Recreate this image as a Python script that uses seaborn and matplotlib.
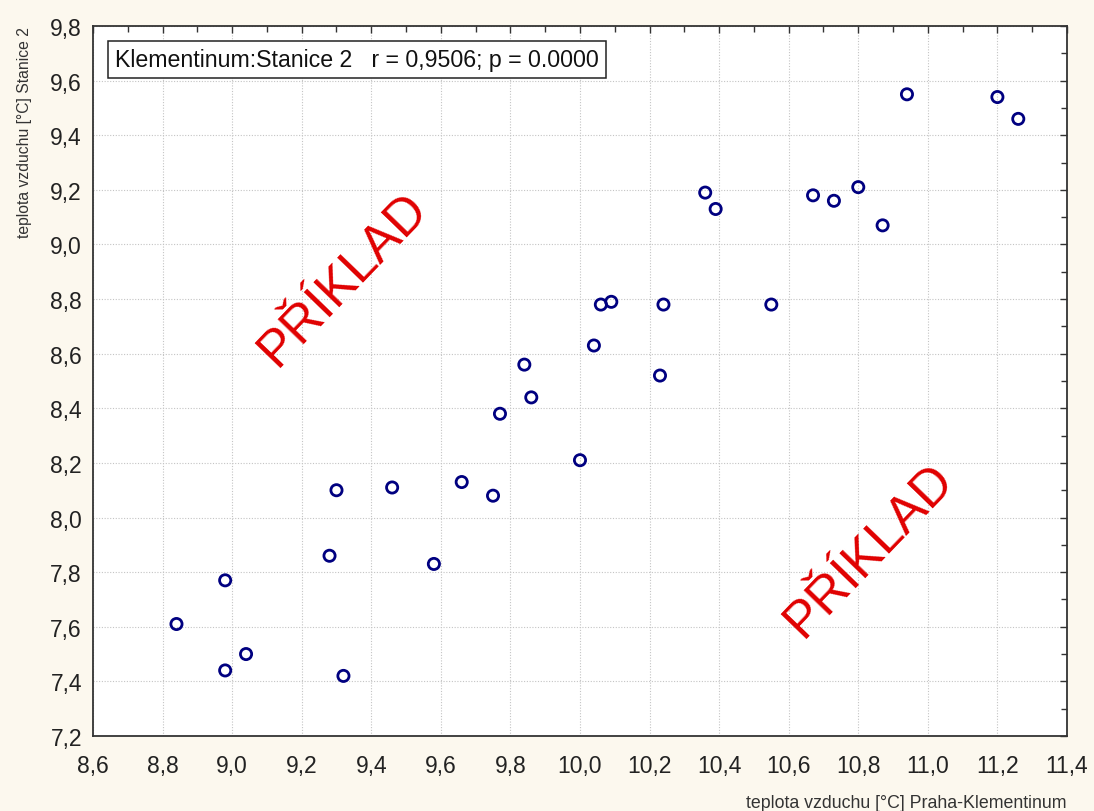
import numpy as np
import pandas as pd
import matplotlib
matplotlib.use('Agg')
import matplotlib.pyplot as plt
from matplotlib.ticker import MultipleLocator, AutoMinorLocator, FuncFormatter
import seaborn as sns

# hodnoty
klementinum = [8.84, 8.98, 8.98, 9.04, 9.28, 9.30, 9.32, 9.46, 9.58, 9.66,
               9.75, 9.77, 9.84, 9.86, 10.00, 10.04, 10.06, 10.09, 10.23, 10.24,
               10.36, 10.39, 10.55, 10.67, 10.73, 10.80, 10.87, 10.94, 11.20, 11.26]
stanice2 = [7.61, 7.77, 7.44, 7.50, 7.86, 8.10, 7.42, 8.11, 7.83, 8.13,
            8.08, 8.38, 8.56, 8.44, 8.21, 8.63, 8.78, 8.79, 8.52, 8.78,
            9.19, 9.13, 8.78, 9.18, 9.16, 9.21, 9.07, 9.55, 9.54, 9.46]
x_limits = [8.6, 11.4]
y_limits = [7.2, 9.8]
legend_text = "Klementinum:Stanice 2   r = 0,9506; p = 0.0000"
watermark = "PŘÍKLAD"

df = pd.DataFrame({"x": klementinum, "y": stanice2})

sns.set_style("white")
plt.rcParams['font.family'] = ['Liberation Sans', 'DejaVu Sans']

bg = "#fcf8ee"
fig = plt.figure(figsize=(10.94, 8.12), dpi=100, facecolor=bg)
ax = fig.add_axes([0.085, 0.0924, 0.8903, 0.8743])
ax.set_facecolor("white")

sns.scatterplot(data=df, x="x", y="y", ax=ax, marker="o", s=65,
                facecolors="none", edgecolor="#000080", linewidth=2.0, zorder=3)

ax.set_xlim(x_limits)
ax.set_ylim(y_limits)
ax.xaxis.set_major_locator(MultipleLocator(0.2))
ax.yaxis.set_major_locator(MultipleLocator(0.2))
ax.xaxis.set_minor_locator(AutoMinorLocator(2))
ax.yaxis.set_minor_locator(AutoMinorLocator(2))
fmt = FuncFormatter(lambda v, p: f"{v:.1f}".replace('.', ','))
ax.xaxis.set_major_formatter(fmt)
ax.yaxis.set_major_formatter(fmt)

ax.tick_params(which="both", direction="in", top=True, right=True,
               colors="#333333", width=1)
ax.tick_params(which="major", length=5, labelsize=16.5, labelcolor="#222222")
ax.tick_params(axis="x", which="major", pad=13)
ax.tick_params(axis="y", which="major", pad=8)
ax.tick_params(which="minor", length=4)

for sp in ax.spines.values():
    sp.set_color("#333333")
    sp.set_linewidth(1.3)

ax.grid(True, which="major", linestyle=(0, (1, 1.5)), color="#c4c4c4", linewidth=0.8)
ax.set_axisbelow(True)

ax.set_xlabel("teplota vzduchu [°C] Praha-Klementinum", fontsize=12.8,
              color="#333333", loc="right", labelpad=12)
ax.set_ylabel("teplota vzduchu [°C] Stanice 2", fontsize=11.3,
              color="#333333", loc="top", labelpad=13)

ax.text(0.0225, 0.953, legend_text, transform=ax.transAxes, fontsize=16.7,
        ha="left", va="center", color="#111111", zorder=5,
        bbox=dict(boxstyle="square,pad=0.3", facecolor="white",
                  edgecolor="#222222", linewidth=1.1))

for cx, cy in [(0.2567, 0.6437), (0.797, 0.263)]:
    ax.text(cx, cy, watermark, transform=ax.transAxes, fontsize=37,
            color="#e00000", rotation=46, rotation_mode="anchor",
            ha="center", va="center", zorder=4)

fig.savefig("out.png", dpi=100, facecolor=bg)
